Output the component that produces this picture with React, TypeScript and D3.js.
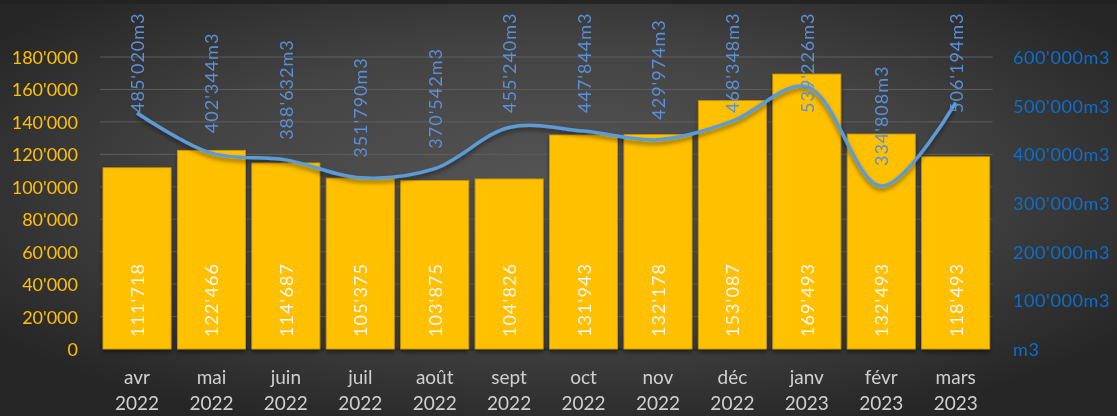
import React from "react";
import * as d3 from "d3";

const months = ["avr", "mai", "juin", "juil", "août", "sept", "oct", "nov", "déc", "janv", "févr", "mars"];
const years = ["2022", "2022", "2022", "2022", "2022", "2022", "2022", "2022", "2022", "2023", "2023", "2023"];
const barValues = [111718, 122466, 114687, 105375, 103875, 104826, 131943, 132178, 153087, 169493, 132493, 118493];
const lineValues = [485020, 402344, 388632, 351790, 370542, 455240, 447844, 429974, 468348, 539226, 334808, 506194];
const leftTicks = [0, 20000, 40000, 60000, 80000, 100000, 120000, 140000, 160000, 180000];
const rightTicks = [0, 100000, 200000, 300000, 400000, 500000, 600000];

const W = 1117;
const H = 416;
const plot = { left: 100, right: 992.7, top: 57, bottom: 349 };

const fmt = (v: number) => d3.format(",")(v).replace(/,/g, "'");
const font = "Lato, 'Open Sans', sans-serif";

export default function App() {
  const x = d3
    .scaleBand<number>()
    .domain(d3.range(months.length))
    .range([plot.left, plot.right])
    .paddingInner(0.085)
    .paddingOuter(0.04);
  const yL = d3.scaleLinear().domain([0, 180000]).range([plot.bottom, plot.top]);
  const yR = d3.scaleLinear().domain([0, 600000]).range([plot.bottom, plot.top]);
  const cx = (i: number) => (x(i) as number) + x.bandwidth() / 2;

  // smoothed line like excel
  const line = d3
    .line<number>()
    .x((_, i) => cx(i))
    .y((d) => yR(d))
    .curve(d3.curveCatmullRom.alpha(0.5));

  return (
    <svg width={W} height={H} style={{ position: "fixed", left: 0, top: 0, display: "block" }} fontFamily={font}>
      <defs>
        <radialGradient id="bg" cx="50%" cy="45%" r="62%">
          <stop offset="0%" stopColor="#555555" />
          <stop offset="55%" stopColor="#434343" />
          <stop offset="100%" stopColor="#262626" />
        </radialGradient>
        <filter id="shadow" x="-10%" y="-10%" width="120%" height="130%">
          <feDropShadow dx="0" dy="3" stdDeviation="2" floodColor="#000" floodOpacity="0.45" />
        </filter>
      </defs>
      <rect width={W} height={H} fill="url(#bg)" />
      <rect width={W} height={4} fill="#232323" />

      {/* gridlines */}
      {leftTicks.slice(1).map((t) => (
        <line key={t} x1={plot.left} x2={plot.right} y1={yL(t)} y2={yL(t)} stroke="#5e5e5e" strokeWidth={1} />
      ))}
      <line x1={plot.left} x2={plot.right} y1={plot.bottom + 0.5} y2={plot.bottom + 0.5} stroke="#2e2e2e" strokeWidth={2} />

      {/* bars */}
      <g filter="url(#shadow)">
        {barValues.map((v, i) => (
          <rect
            key={i}
            x={x(i)}
            y={yL(v)}
            width={x.bandwidth()}
            height={yL(0) - yL(v)}
            fill="#FFC000"
            stroke="#C99700"
            strokeWidth={0.8}
          />
        ))}
      </g>

      {/* bar labels */}
      {barValues.map((v, i) => (
        <text
          key={i}
          transform={`translate(${cx(i)},${yL(0) - 12}) rotate(-90)`}
          dominantBaseline="central"
          fill="#f5f5f5"
          fontSize={18}
          letterSpacing={1.1}
        >
          {fmt(v)}
        </text>
      ))}

      {/* line */}
      <path d={line(lineValues) as string} fill="none" stroke="#5B9BD5" strokeWidth={3.5} filter="url(#shadow)" />

      {/* line labels */}
      {lineValues.map((v, i) => (
        <text
          key={i}
          transform={`translate(${cx(i)},${Math.max(yR(v) - 20, yR(600000) + 56)}) rotate(-90)`}
          dominantBaseline="central"
          fill="#5B8FD8"
          fontSize={18}
          letterSpacing={1}
        >
          {fmt(v)}m3
        </text>
      ))}

      {/* left axis */}
      {leftTicks.map((t) => (
        <text key={t} x={78} y={yL(t)} textAnchor="end" dominantBaseline="central" fill="#FFC000" fontSize={18}>
          {fmt(t)}
        </text>
      ))}

      {/* right axis */}
      {rightTicks.map((t) => (
        <text key={t} x={1013} y={yR(t)} dominantBaseline="central" fill="#0A6FCF" fontSize={18} letterSpacing={0.6}>
          {t === 0 ? "m3" : fmt(t) + "m3"}
        </text>
      ))}

      {/* x axis */}
      {months.map((m, i) => (
        <g key={i} fill="#d0d0d0" fontSize={19} textAnchor="middle">
          <text x={cx(i)} y={384}>{m}</text>
          <text x={cx(i)} y={410}>{years[i]}</text>
        </g>
      ))}
    </svg>
  );
}
